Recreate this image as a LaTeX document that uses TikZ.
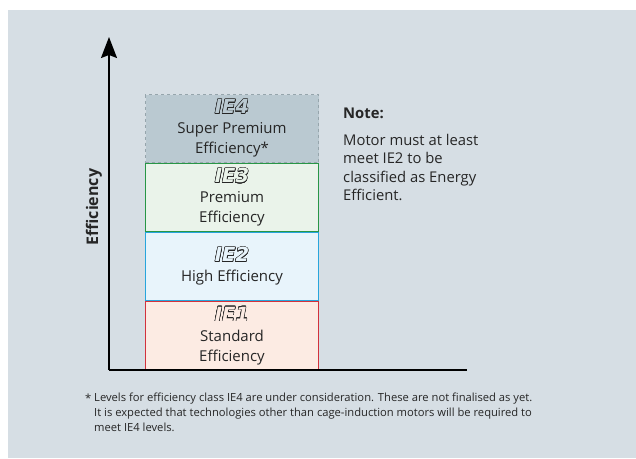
\documentclass[tikz,border=0pt]{standalone}
\usepackage{fontspec}
\setmainfont{Open Sans}
\newfontfamily\labelfont{DejaVu Sans}
\usepackage[copies]{contour}
\usetikzlibrary{arrows.meta}

\definecolor{panel}{RGB}{214,222,228}
\definecolor{ieFourFill}{RGB}{186,201,209}
\definecolor{ieFourLine}{RGB}{150,165,172}
\definecolor{ieThreeFill}{RGB}{234,243,234}
\definecolor{ieThreeLine}{RGB}{40,150,70}
\definecolor{ieTwoFill}{RGB}{232,244,251}
\definecolor{ieTwoLine}{RGB}{40,165,220}
\definecolor{ieOneFill}{RGB}{252,235,227}
\definecolor{ieOneLine}{RGB}{210,50,60}

\contourlength{0.5pt}
\newcommand{\ielabel}[2]{{\labelfont\fontsize{19.5}{20}\selectfont\color{#1}\bfseries\itshape\contour{black!85}{#2}}}

\tikzset{
  classbox/.style={minimum width=173pt, minimum height=68pt, anchor=north west,
    align=center, inner sep=0pt, line width=1pt,
    font=\fontsize{15}{20}\selectfont, text=black!85},
  notetext/.style={anchor=north west, align=left, inner sep=0pt,
    font=\fontsize{14.8}{18.5}\selectfont, text=black!85},
  foottext/.style={notetext, font=\fontsize{11.2}{14.7}\selectfont},
  axisline/.style={line width=1.5pt}
}

\begin{document}
\begin{tikzpicture}[x=1pt,y=-1pt]
  \useasboundingbox (0,0) rectangle (636,458);
  \fill[panel] (8,10) rectangle (636,458);
  %\draw[help lines,step=50] (0,0) grid (636,458);

  % efficiency classes
  \node[classbox, draw=ieFourLine, fill=ieFourFill, dashed] (ie4) at (145,94)
    {\ielabel{ieFourFill}{IE4}\\Super Premium\\Efficiency*};
  \node[classbox, draw=ieThreeLine, fill=ieThreeFill] (ie3) at (145,163)
    {\ielabel{ieThreeFill}{IE3}\\Premium\\Efficiency};
  \node[classbox, draw=ieTwoLine, fill=ieTwoFill] (ie2) at (145,232)
    {\ielabel{ieTwoFill}{IE2}\\High Efficiency};
  \node[classbox, draw=ieOneLine, fill=ieOneFill, minimum height=69pt] (ie1) at (145,301)
    {\ielabel{ieOneFill}{IE1}\\Standard\\Efficiency};

  % axes
  \coordinate (origin) at (109,370);
  \coordinate (ytop) at (109,37);
  \coordinate (xend) at (467,370);
  \draw[axisline, -{Stealth[length=21pt,width=16pt,inset=3pt]}] (origin) -- (ytop);
  \draw[axisline] (origin) -- (xend);
  \node[rotate=90, font=\fontsize{16}{18}\selectfont\bfseries, text=black!85] (ylab) at (94,207) {Efficiency};

  % note
  \node[notetext, font=\fontsize{14.8}{18.5}\selectfont\bfseries] (notehead) at (343,108) {Note:};
  \node[notetext] (notebody) at (343,134)
    {Motor must at least\\meet IE2 to be\\classified as Energy\\Efficient.};

  % footnote
  \node[foottext] (star) at (85,394) {*};
  \node[foottext] (foot) at (94,393)
    {Levels for efficiency class IE4 are under consideration. These are not finalised as yet.\\%
It is expected that technologies other than cage-induction motors will be required to\\%
meet IE4 levels.};
\end{tikzpicture}
\end{document}
